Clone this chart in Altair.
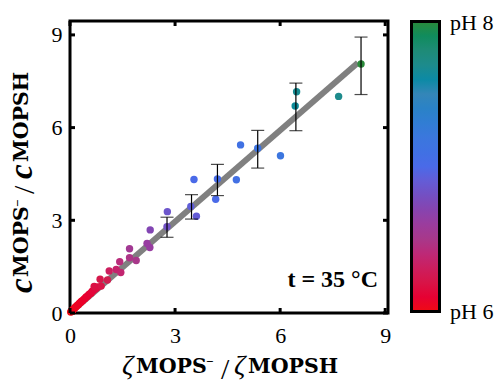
import altair as alt
import pandas as pd

# ---------------- data ----------------
pt_x = [0.02, 0.05, 0.07, 0.10, 0.13, 0.15, 0.18, 0.21, 0.24, 0.27, 0.30, 0.33,
        0.36, 0.40, 0.43, 0.46, 0.50, 0.53, 0.56, 0.60, 0.63, 0.66, 0.71, 0.75, 0.79,
        0.69, 0.89, 0.86, 1.07, 1.12, 1.32, 1.45, 1.42, 1.70, 1.89, 1.70, 2.28, 2.20,
        2.29, 2.77, 2.78, 3.45, 3.61, 3.54, 4.16, 4.21, 4.75, 4.87, 5.36, 6.01, 6.43,
        6.47, 7.67, 8.31]
pt_y = [0.03, 0.05, 0.09, 0.12, 0.15, 0.19, 0.21, 0.25, 0.27, 0.32, 0.34, 0.38,
        0.40, 0.45, 0.47, 0.52, 0.54, 0.58, 0.62, 0.64, 0.70, 0.72, 0.77, 0.80, 0.84,
        0.86, 0.87, 1.09, 1.07, 1.36, 1.41, 1.31, 1.66, 1.79, 1.70, 2.08, 2.12, 2.25,
        2.69, 2.79, 3.28, 3.45, 3.13, 4.32, 3.68, 4.34, 4.31, 5.44, 5.33, 5.09, 6.70,
        7.16, 7.01, 8.06]
pt_ph = [6.00, 6.00, 6.01, 6.01, 6.02, 6.02, 6.03, 6.03, 6.04, 6.04, 6.05, 6.05,
         6.06, 6.07, 6.07, 6.08, 6.09, 6.09, 6.10, 6.11, 6.12, 6.13, 6.14, 6.15, 6.17,
         6.18, 6.20, 6.22, 6.25, 6.30, 6.35, 6.37, 6.42, 6.48, 6.50, 6.55, 6.62, 6.62,
         6.72, 6.82, 6.85, 6.92, 6.90, 7.00, 7.00, 7.03, 7.08, 7.10, 7.15, 7.18, 7.65,
         7.68, 7.70, 8.00]

err_x = [2.77, 3.47, 4.21, 5.36, 6.45, 8.31]
err_lo = [2.45, 3.04, 3.80, 4.69, 5.90, 7.07]
err_hi = [3.10, 3.83, 4.81, 5.91, 7.44, 8.93]

fit_x = [0.0, 8.22]
fit_y = [0.0, 8.10]

tick_vals = [0, 3, 6, 9]
ph_domain = [6, 8]
ph_colors = ["#f00a14", "#d01e50", "#a8388a", "#7a48b8", "#4a6ae8",
             "#3a7ada", "#3486b8", "#2e8a80", "#2a8a3a"]

# ---------------- tables ----------------
pts = pd.DataFrame({"x": pt_x, "y": pt_y, "ph": pt_ph})
errs = pd.DataFrame({"x": err_x, "lo": err_lo, "hi": err_hi})
fit = pd.DataFrame({"x": fit_x, "y": fit_y})
ticks = pd.DataFrame({"t": tick_vals})

W, H = 318, 292
SERIF = "Liberation Serif"
SC = "DejaVu Serif"

xs = alt.Scale(domain=[0, 9.08], nice=False, zero=False)
ys = alt.Scale(domain=[0, 9.45], nice=False, zero=False)

x_axis = alt.Axis(values=tick_vals, title=None, domain=False, ticks=False, tickSize=0,
                  grid=False, labelFont=SERIF, labelFontSize=22, labelColor="black",
                  labelPadding=12, labelFlush=False)
y_axis = alt.Axis(values=tick_vals, title=None, domain=False, ticks=False, tickSize=0,
                  grid=False, labelFont=SERIF, labelFontSize=22, labelColor="black",
                  labelPadding=8, labelFlush=False)

fit_line = alt.Chart(fit).mark_line(color="#808080", strokeWidth=6).encode(
    x=alt.X("x:Q", scale=xs, axis=x_axis),
    y=alt.Y("y:Q", scale=ys, axis=y_axis),
)

points = alt.Chart(pts).mark_circle(size=55, opacity=1).encode(
    x=alt.X("x:Q", scale=xs),
    y=alt.Y("y:Q", scale=ys),
    color=alt.Color(
        "ph:Q",
        scale=alt.Scale(domain=ph_domain, range=ph_colors),
        legend=alt.Legend(
            orient="none", legendX=341.5, legendY=0.5, direction="vertical",
            gradientLength=290, gradientThickness=28,
            gradientStrokeColor="black", gradientStrokeWidth=3,
            values=ph_domain, labelExpr="''", labelOpacity=0,
            title=None, padding=0,
        ),
    ),
)

bars = alt.Chart(errs).mark_rule(color="black", strokeWidth=1.2).encode(
    x=alt.X("x:Q", scale=xs), y=alt.Y("lo:Q", scale=ys), y2="hi:Q"
)
cap_lo = alt.Chart(errs).mark_tick(orient="horizontal", size=13, thickness=1.2,
                                   color="black").encode(
    x=alt.X("x:Q", scale=xs), y=alt.Y("lo:Q", scale=ys))
cap_hi = alt.Chart(errs).mark_tick(orient="horizontal", size=13, thickness=1.2,
                                   color="black").encode(
    x=alt.X("x:Q", scale=xs), y=alt.Y("hi:Q", scale=ys))

# inward ticks on all four sides
tk_bottom = alt.Chart(ticks).mark_rule(color="black", strokeWidth=3).encode(
    x=alt.X("t:Q", scale=xs), y=alt.value(H), y2=alt.value(H - 5))
tk_top = alt.Chart(ticks).mark_rule(color="black", strokeWidth=3).encode(
    x=alt.X("t:Q", scale=xs), y=alt.value(0), y2=alt.value(5))
tk_left = alt.Chart(ticks).mark_rule(color="black", strokeWidth=3).encode(
    y=alt.Y("t:Q", scale=ys), x=alt.value(0), x2=alt.value(5))
tk_right = alt.Chart(ticks).mark_rule(color="black", strokeWidth=3).encode(
    y=alt.Y("t:Q", scale=ys), x=alt.value(W), x2=alt.value(W - 5))


def txt(s, x, y, size, font, style="normal", weight="normal", angle=0, align="left",
        baseline="alphabetic"):
    return alt.Chart(alt.Data(values=[{"k": 1}])).mark_text(
        text=s, font=font, fontSize=size, fontStyle=style, fontWeight=weight,
        angle=angle, align=align, baseline=baseline, color="black",
    ).encode(x=alt.value(x), y=alt.value(y))


annot = txt("t = 35 °C", 308, 266, 24, SERIF, weight="bold", align="right")

# colour-bar end labels
cb_labels = [
    txt(f"pH {ph_domain[1]}", 380, 2, 22, SERIF, baseline="middle"),
    txt(f"pH {ph_domain[0]}", 380, 291, 22, SERIF, baseline="middle"),
]

# x-axis title: ζ_MOPS⁻ / ζ_MOPSH
xt = [
    txt("ζ", 52, 353, 28, SERIF, style="italic"),
    txt("MOPS", 66, 352, 20.5, SC, weight="bold"),
    txt("−", 136, 345, 13, SERIF, weight="bold"),
    txt("/", 151, 358, 30, SERIF),
    txt("ζ", 164, 353, 28, SERIF, style="italic"),
    txt("MOPSH", 178, 352, 20.5, SC, weight="bold"),
]
# y-axis title: c_MOPS⁻ / c_MOPSH (rotated)
yt = [
    txt("c", -38, 272, 33, SERIF, style="italic", weight="bold", angle=270),
    txt("MOPS", -42, 256, 20.5, SC, weight="bold", angle=270),
    txt("−", -48, 186, 13, SERIF, weight="bold", angle=270),
    txt("/", -36, 173, 30, SERIF, angle=270),
    txt("c", -38, 158, 33, SERIF, style="italic", weight="bold", angle=270),
    txt("MOPSH", -42, 141, 20.5, SC, weight="bold", angle=270),
]

chart = alt.layer(
    fit_line, points, bars, cap_lo, cap_hi,
    tk_bottom, tk_top, tk_left, tk_right, annot, *cb_labels, *xt, *yt,
).properties(
    width=W, height=H,
    autosize=alt.AutoSizeParams(type="none"),
    padding={"left": 70, "top": 21, "right": 113, "bottom": 72},
).configure_view(stroke="black", strokeWidth=3)

chart.save("out.html", embed_options={"renderer": "svg", "actions": False})
